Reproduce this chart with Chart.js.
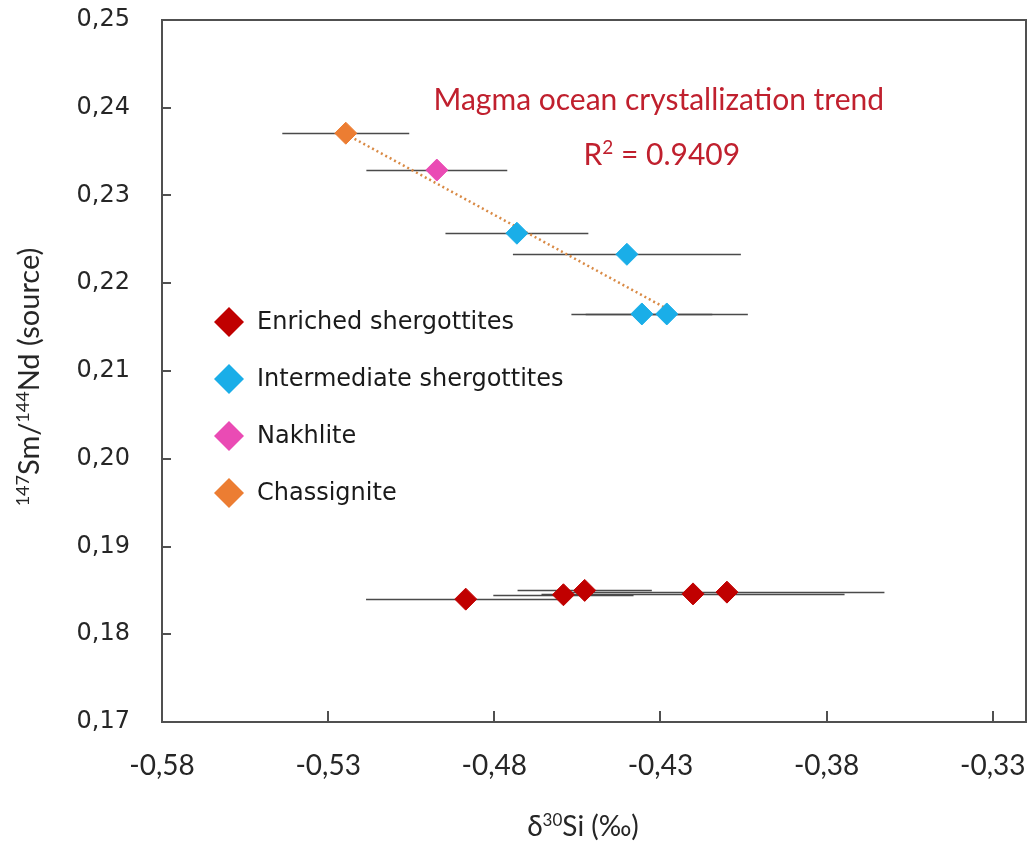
<!DOCTYPE html>
<html>
<head>
<meta charset="utf-8">
<script src="https://cdn.jsdelivr.net/npm/chart.js@4/dist/chart.umd.min.js"></script>
<style>
  html, body { margin: 0; padding: 0; background: #fff; }
  #wrap { width: 1031px; height: 849px; }
</style>
</head>
<body>
<div id="wrap"><canvas id="chart" width="1031" height="849"></canvas></div>
<script>
// Valeurs lues par groupe de meteorites
const enrichedX = [-0.4886, -0.4592, -0.4528, -0.4202, -0.4100];
const enrichedY = [0.1840, 0.1845, 0.1850, 0.1846, 0.1848];
const enrichedErr = [0.0300, 0.0211, 0.0202, 0.0456, 0.0474];

const intermediateX = [-0.4732, -0.4401, -0.4356, -0.4281];
const intermediateY = [0.2257, 0.2233, 0.2165, 0.2165];
const intermediateErr = [0.0215, 0.0343, 0.0212, 0.0244];

const nakhliteX = [-0.4973];
const nakhliteY = [0.2329];
const nakhliteErr = [0.0212];

const chassigniteX = [-0.5247];
const chassigniteY = [0.2371];
const chassigniteErr = [0.0191];

// droite de tendance (extremites)
const trendX = [-0.5247, -0.4281];
const trendY = [0.2370, 0.2171];

const xTicks = [-0.58, -0.53, -0.48, -0.43, -0.38, -0.33];
const xTickLabels = ["-0,58", "-0,53", "-0,48", "-0,43", "-0,38", "-0,33"];
const yTicks = [0.17, 0.18, 0.19, 0.20, 0.21, 0.22, 0.23, 0.24, 0.25];
const yTickLabels = ["0,17", "0,18", "0,19", "0,20", "0,21", "0,22", "0,23", "0,24", "0,25"];

const trendTitle = "Magma ocean crystallization trend";
const trendR2 = "0.9409";

function pts(xs, ys) {
  return xs.map((x, i) => ({ x: x, y: ys[i] }));
}

function series(label, xs, ys, errs, color) {
  return {
    label: label,
    data: pts(xs, ys),
    xErr: errs,
    pointStyle: 'rectRot',
    pointRadius: 11,
    pointHoverRadius: 11,
    backgroundColor: color,
    borderColor: color,
    borderWidth: 1,
    showLine: false,
    order: 0
  };
}

// texte avec exposants : [texte, estExposant]
function richWidth(ctx, parts, size, family) {
  let w = 0;
  parts.forEach(p => {
    ctx.font = (p[1] ? Math.round(size * 0.62) : size) + "px " + family;
    w += ctx.measureText(p[0]).width;
  });
  return w;
}

function drawRich(ctx, parts, x, y, size, family, color) {
  const total = richWidth(ctx, parts, size, family);
  let cx = x - total / 2;
  ctx.fillStyle = color;
  ctx.textAlign = 'left';
  ctx.textBaseline = 'alphabetic';
  parts.forEach(p => {
    const s = p[1] ? Math.round(size * 0.62) : size;
    ctx.font = s + "px " + family;
    ctx.fillText(p[0], cx, p[1] ? y - size * 0.36 : y);
    cx += ctx.measureText(p[0]).width;
  });
}

const decor = {
  id: 'decor',
  beforeDatasetsDraw(chart) {
    const ctx = chart.ctx;
    const xs = chart.scales.x, ys = chart.scales.y;
    ctx.save();
    ctx.strokeStyle = '#4a4a4a';
    ctx.lineWidth = 1.5;
    chart.data.datasets.forEach(ds => {
      if (!ds.xErr) return;
      ds.data.forEach((p, i) => {
        const py = Math.round(ys.getPixelForValue(p.y)) + 0.5;
        ctx.beginPath();
        ctx.moveTo(xs.getPixelForValue(p.x - ds.xErr[i]), py);
        ctx.lineTo(xs.getPixelForValue(p.x + ds.xErr[i]), py);
        ctx.stroke();
      });
    });
    ctx.restore();
  },
  afterDraw(chart) {
    const ctx = chart.ctx;
    const a = chart.chartArea;
    const xs = chart.scales.x, ys = chart.scales.y;
    ctx.save();

    // cadre + graduations interieures
    ctx.strokeStyle = '#505050';
    ctx.lineWidth = 2;
    ctx.strokeRect(a.left, a.top, a.right - a.left, a.bottom - a.top);
    ctx.beginPath();
    xTicks.forEach(v => {
      const px = Math.round(xs.getPixelForValue(v));
      ctx.moveTo(px, a.bottom);
      ctx.lineTo(px, a.bottom - 11);
    });
    yTicks.forEach(v => {
      const py = Math.round(ys.getPixelForValue(v));
      ctx.moveTo(a.left, py);
      ctx.lineTo(a.left + 9, py);
    });
    ctx.stroke();

    // titres des axes
    const titleFont = "Lato, 'Open Sans', sans-serif";
    drawRich(ctx, [["\u03B4", false], ["30", true], ["Si (\u2030)", false]],
      583, 836, 28, titleFont, '#262626');
    ctx.save();
    ctx.translate(39, (a.top + a.bottom) / 2 + 6);
    ctx.rotate(-Math.PI / 2);
    drawRich(ctx, [["147", true], ["Sm/", false], ["144", true], ["Nd (source)", false]],
      0, 0, 29, titleFont, '#262626');
    ctx.restore();

    // annotation de la tendance
    const red = '#C0202E';
    drawRich(ctx, [[trendTitle, false]],
      xs.getPixelForValue(-0.4305), ys.getPixelForValue(0.2409) + 10, 30, titleFont, red);
    drawRich(ctx, [["R", false], ["2", true], [" = " + trendR2, false]],
      xs.getPixelForValue(-0.4296), ys.getPixelForValue(0.2346) + 10, 30, titleFont, red);

    // legende
    let ly = a.top + 302;
    const lx = a.left + 67;
    chart.data.datasets.forEach(ds => {
      if (!ds.xErr) return;
      ctx.fillStyle = ds.backgroundColor;
      ctx.beginPath();
      ctx.moveTo(lx, ly - 15);
      ctx.lineTo(lx + 15, ly);
      ctx.lineTo(lx, ly + 15);
      ctx.lineTo(lx - 15, ly);
      ctx.closePath();
      ctx.fill();
      ctx.fillStyle = '#1a1a1a';
      ctx.font = "24px 'DejaVu Sans', Verdana, sans-serif";
      ctx.textAlign = 'left';
      ctx.textBaseline = 'middle';
      ctx.fillText(ds.label, lx + 28, ly + 1);
      ly += 57;
    });
    ctx.restore();
  }
};

// pas de marge ajoutee pour les etiquettes qui debordent
function fitX(s) {
  s.height = 127;
  s.paddingLeft = 0;
  s.paddingRight = 0;
}
function fitY(s) {
  s.width = 162;
  s.paddingTop = 0;
  s.paddingBottom = 0;
}

const chart = new Chart(document.getElementById('chart').getContext('2d'), {
  type: 'scatter',
  data: {
    datasets: [
      series('Enriched shergottites', enrichedX, enrichedY, enrichedErr, '#C00000'),
      series('Intermediate shergottites', intermediateX, intermediateY, intermediateErr, '#1AAEE8'),
      series('Nakhlite', nakhliteX, nakhliteY, nakhliteErr, '#EA4BB4'),
      series('Chassignite', chassigniteX, chassigniteY, chassigniteErr, '#EC7D32'),
      {
        label: 'trend',
        data: pts(trendX, trendY),
        showLine: true,
        borderColor: '#D98A45',
        borderWidth: 2.5,
        borderDash: [2, 3],
        pointRadius: 0,
        order: 5
      }
    ]
  },
  options: {
    responsive: false,
    animation: false,
    devicePixelRatio: 1,
    layout: { autoPadding: false, padding: { top: 20, right: 5, left: 0, bottom: 0 } },
    plugins: { legend: { display: false }, tooltip: { enabled: false } },
    scales: {
      x: {
        type: 'linear',
        min: -0.58,
        max: -0.32,
        grid: { display: false, drawTicks: false },
        border: { display: false },
        afterBuildTicks: s => { s.ticks = xTicks.map(v => ({ value: v })); },
        afterFit: fitX,
        ticks: {
          padding: 27,
          color: '#262626',
          font: { family: "Lato, 'Open Sans', sans-serif", size: 28 },
          callback: (v, i) => xTickLabels[i]
        }
      },
      y: {
        type: 'linear',
        min: 0.17,
        max: 0.25,
        grid: { display: false, drawTicks: false },
        border: { display: false },
        afterBuildTicks: s => { s.ticks = yTicks.map(v => ({ value: v })); },
        afterFit: fitY,
        ticks: {
          padding: 32,
          color: '#262626',
          font: { family: "'DejaVu Sans', Verdana, sans-serif", size: 24 },
          callback: (v, i) => yTickLabels[i]
        }
      }
    }
  },
  plugins: [decor]
});
</script>
</body>
</html>
